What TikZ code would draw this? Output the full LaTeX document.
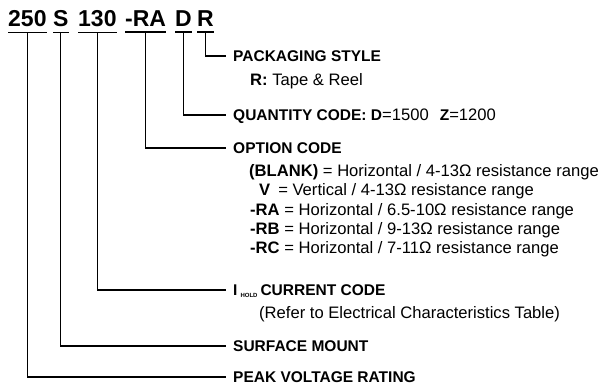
\documentclass[tikz,border=0pt]{standalone}
\usepackage{fontspec}
\setmainfont{Liberation Sans}
\newcommand{\bodyfont}{\fontsize{16.6}{18}\selectfont\mdseries}
\begin{document}
\begin{tikzpicture}[x=1pt,y=-1pt,
  code/.style={inner sep=0pt, anchor=base west, font=\fontsize{23}{24}\selectfont\bfseries},
  head/.style={inner sep=0pt, anchor=west, text depth=0pt, text height=11.1pt, font=\fontsize{15.5}{17}\selectfont\bfseries},
  body/.style={inner sep=0pt, anchor=west, text depth=0pt, text height=11.8pt, font=\bodyfont},
  ul/.style={line width=1.5pt},
  conn/.style={line width=1.2pt}]
\useasboundingbox (0,0) rectangle (599,388);
% part number pieces
\node[code] (t1) at (8,27) {250};
\node[code] (t2) at (53,27) {S};
\node[code] (t3) at (78,27) {130};
\node[code] (t4) at (125,27) {-RA};
\node[code] (t5) at (175,27) {D};
\node[code] (t6) at (197,27) {R};
\foreach \n in {t1,t2,t3,t4,t5,t6}
  \draw[ul] ([yshift=-5pt]\n.south west) -- ([yshift=-5pt]\n.south east);
% headings
\node[head] (h1) at (233,56) {PACKAGING STYLE};
\node[body] (d1) at (250,80) {\textbf{R:} Tape \& Reel};
\node[head] (h2) at (233,115) {QUANTITY CODE: D{\bodyfont =1500}\hspace{11pt}Z{\bodyfont =1200}};
\node[head] (h3) at (233,148) {OPTION CODE};
\node[body] (o1) at (249,171) {\textbf{(BLANK)} = Horizontal / 4-13Ω resistance range};
\node[body] (o2) at (259,190) {\textbf{V}\hspace{8pt}= Vertical / 4-13Ω resistance range};
\node[body] (o3) at (250,210) {\textbf{-RA} = Horizontal / 6.5-10Ω resistance range};
\node[body] (o4) at (250,229) {\textbf{-RB} = Horizontal / 9-13Ω resistance range};
\node[body] (o5) at (250,248) {\textbf{-RC} = Horizontal / 7-11Ω resistance range};
\node[head] (h4) at (233,290) {I\hspace{3pt}\raisebox{-1.5pt}{\fontsize{6}{6}\selectfont HOLD}\hspace{3pt}CURRENT CODE};
\node[body] (d4) at (259,313) {(Refer to Electrical Characteristics Table)};
\node[head] (h5) at (233,346) {SURFACE MOUNT};
\node[head] (h6) at (233,377) {PEAK VOLTAGE RATING};
% connectors
\draw[conn] ([yshift=-5pt]t6.south) |- ([xshift=-7pt]h1.west);
\draw[conn] ([yshift=-5pt]t5.south) |- ([xshift=-7pt]h2.west);
\draw[conn] ([yshift=-5pt]t4.south) |- ([xshift=-7pt]h3.west);
\draw[conn] ([yshift=-5pt]t3.south) |- ([xshift=-7pt]h4.west);
\draw[conn] ([yshift=-5pt]t2.south) |- ([xshift=-7pt]h5.west);
\draw[conn] ([yshift=-5pt]t1.south) |- ([xshift=-7pt]h6.west);
\end{tikzpicture}
\end{document}
